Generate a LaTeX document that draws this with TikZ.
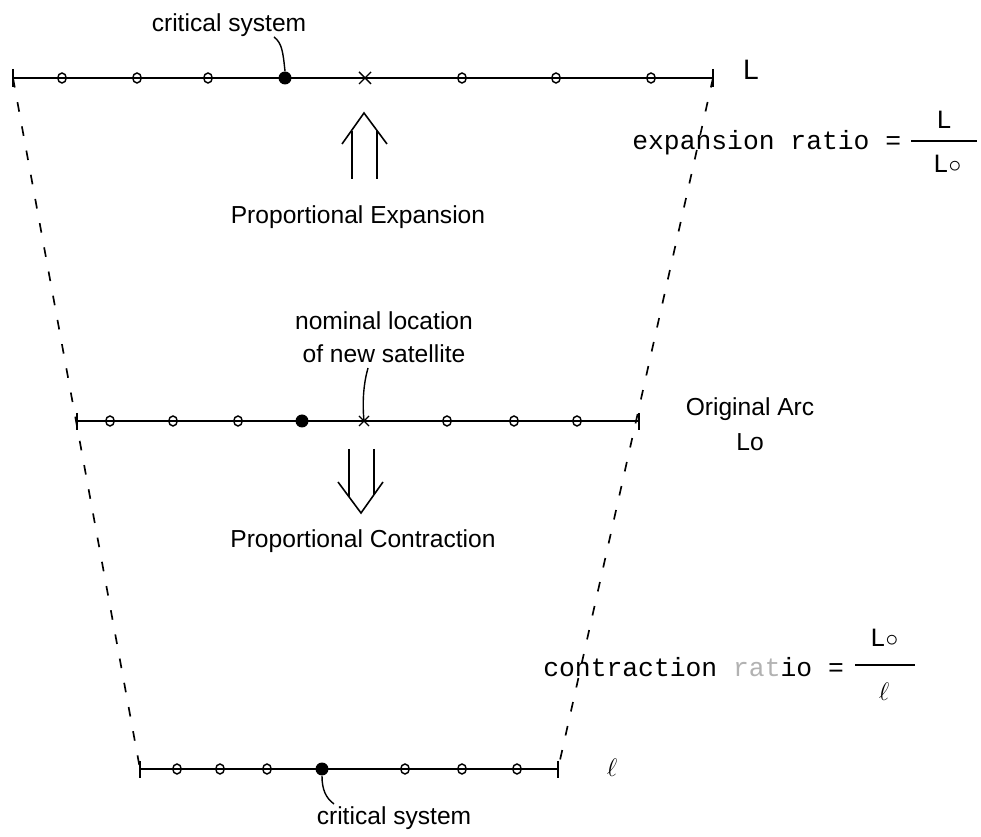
\documentclass[tikz,border=0pt]{standalone}
\usepackage{fontspec}
\setmainfont{Liberation Sans}
\setmonofont{Liberation Mono}
\usetikzlibrary{shapes.geometric}
\begin{document}
\begin{tikzpicture}[x=0.02cm,y=-0.02cm,
  arcline/.style={line width=1pt},
  guide/.style={line width=0.95pt, dash pattern=on 5.5pt off 8.5pt},
  sat/.style={ellipse, draw, line width=0.8pt, minimum width=0.17cm, minimum height=0.2cm, inner sep=0pt},
  crit/.style={circle, fill, minimum size=0.26cm, inner sep=0pt},
  lbl/.style={font=\fontsize{14}{17}\selectfont, inner sep=0pt, align=center},
  mono/.style={font=\ttfamily\fontsize{15}{18}\selectfont, inner sep=0pt},
  leader/.style={line width=0.8pt},
  dbl/.style={line width=0.9pt}]
\useasboundingbox (0,0) rectangle (981,837);

% ---------- top arc (L) ----------
\draw[arcline] (13,78) -- (713,78);
\draw[arcline] (13,69) -- (13,87);
\draw[arcline] (713,69) -- (713,87);
\foreach \x [count=\i] in {62,137,208,462,556,651} \node[sat] (ts\i) at (\x,78) {};
\node[crit] (tc) at (285,78) {};
\coordinate (tx) at (365,78);
\draw[line width=0.8pt] (359,72) -- (371,84) (359,84) -- (371,72);
\node[font=\fontsize{16}{18}\selectfont, inner sep=0pt] (Ltop) at (751,70) {L};
\node[lbl] (cs1) at (229,25) {critical system};
\draw[leader] (274,37) .. controls (282,43) and (283,52) .. (tc.north);

% ---------- middle arc (Lo) ----------
\draw[arcline] (77,421) -- (639,421);
\draw[arcline] (77,413) -- (77,430);
\draw[arcline] (639,413) -- (639,430);
\foreach \x [count=\i] in {110,173,238,447,514,577} \node[sat] (ms\i) at (\x,421) {};
\node[crit] (mc) at (302,421) {};
\coordinate (mx) at (364,421);
\draw[line width=0.7pt] (359,416) -- (369,426) (359,426) -- (369,416);
\node[lbl] (nom) at (384,337) {nominal location\\[2pt]of new satellite};
\draw[leader] (368,368) .. controls (364,382) and (362,400) .. (mx);
\node[lbl] (orig) at (750,424) {Original Arc\\[3pt]Lo};

% ---------- bottom arc (l) ----------
\draw[arcline] (140,769) -- (558,769);
\draw[arcline] (140,761) -- (140,778);
\draw[arcline] (558,761) -- (558,778);
\foreach \x [count=\i] in {177,220,267,405,462,517} \node[sat] (bs\i) at (\x,769) {};
\node[crit] (bc) at (322,769) {};
\node[font=\fontsize{15}{18}\selectfont, inner sep=0pt] (lsmall) at (612,768) {$\ell$};
\node[lbl] (cs2) at (394,818) {critical system};
\draw[leader] (bc.south) .. controls (322,790) and (326,798) .. (334,804);

% ---------- dashed guides ----------
\draw[guide] (13,78) -- (140,769);
\draw[guide] (713,78) -- (558,769);

% ---------- expansion arrow ----------
\draw[dbl] (352,179) -- (352,131) (377,179) -- (377,131);
\draw[dbl] (342,144) -- (364,113) -- (387,144);
\node[lbl] (pe) at (358,217) {Proportional Expansion};

% ---------- contraction arrow ----------
\draw[dbl] (349,449) -- (349,497) (374,449) -- (374,495);
\draw[dbl] (338,482) -- (361,513) -- (383,482);
\node[lbl] (pc) at (363,541) {Proportional Contraction};

% ---------- ratios ----------
\node[mono, anchor=west] (er) at (632,143) {expansion ratio =};
\draw[line width=0.8pt] (911,141) -- (977,141);
\node[mono] (en) at (944,120) {L};
\node[mono] (ed) at (947,164) {L$\circ$};

\node[mono, anchor=west] (cr) at (543,667) {contraction \textcolor{black!30}{rat}io =};
\draw[line width=0.8pt] (855,665) -- (915,665);
\node[mono] (cn) at (884,638) {L$\circ$};
\node[font=\fontsize{15}{18}\selectfont, inner sep=0pt] (cd) at (884,692) {$\ell$};
\end{tikzpicture}
\end{document}
